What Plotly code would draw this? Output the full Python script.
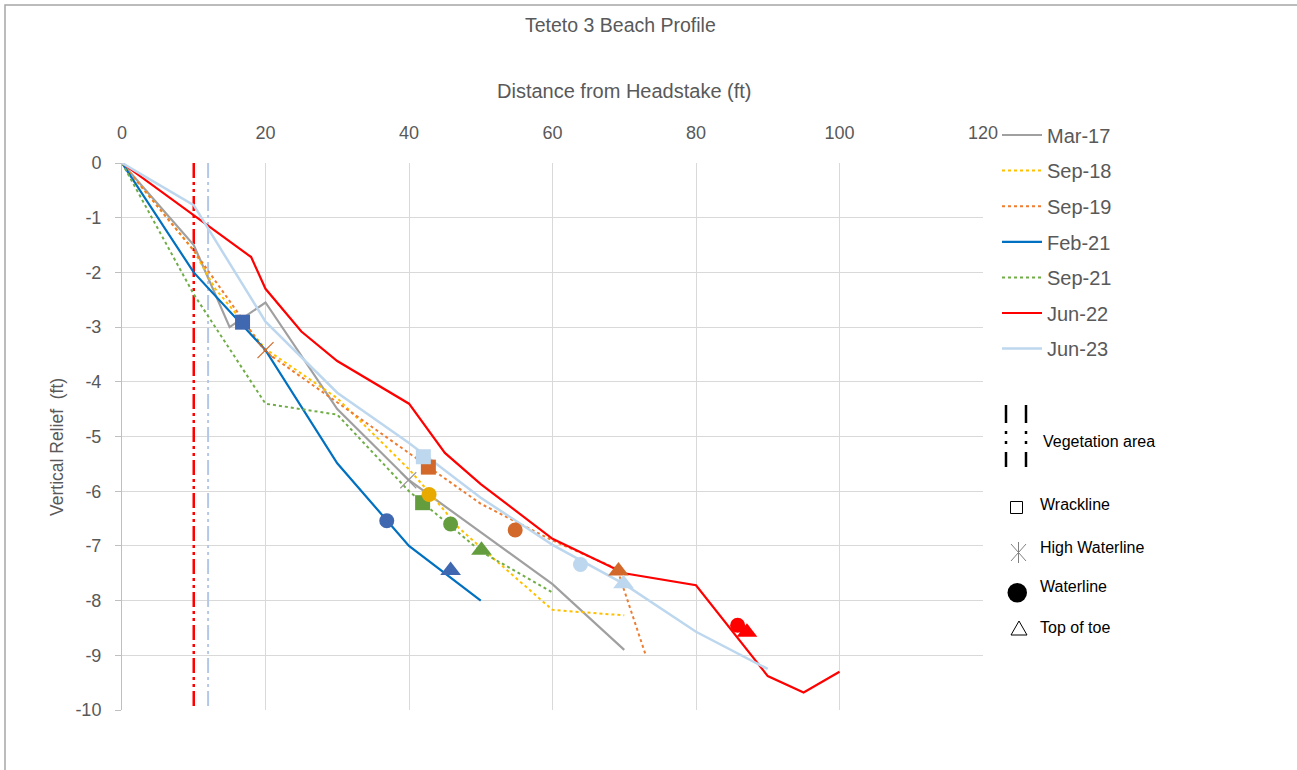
import plotly.graph_objects as go

# ---------------- data ----------------
series_names = ["Mar-17", "Sep-18", "Sep-19", "Feb-21", "Sep-21", "Jun-22", "Jun-23"]

mar17_x = [0, 10, 15, 20, 30, 40, 60, 70]
mar17_y = [0, -1.5, -3.0, -2.55, -4.5, -5.8, -7.7, -8.9]

sep18_x = [0, 10, 13, 20, 30, 40, 43, 47, 60, 70]
sep18_y = [0, -1.6, -2.3, -3.4, -4.3, -5.6, -6.05, -6.68, -8.17, -8.27]

sep19_x = [0, 10, 20, 30, 40, 50, 60, 69, 73]
sep19_y = [0, -1.6, -3.45, -4.38, -5.3, -6.23, -6.9, -7.42, -9.0]

feb21_x = [0, 10, 20, 30, 40, 50]
feb21_y = [0, -2.0, -3.42, -5.49, -7.0, -8.0]

sep21_x = [0, 10, 20, 30, 40, 50, 60]
sep21_y = [0, -2.4, -4.4, -4.6, -6.0, -7.1, -7.85]

jun22_x = [0, 18, 20, 25, 30, 40, 45, 50, 60, 70, 80, 90, 95, 100]
jun22_y = [0, -1.72, -2.3, -3.08, -3.62, -4.4, -5.3, -5.87, -6.87, -7.5, -7.72, -9.38, -9.68, -9.3]

jun23_x = [0, 10, 20, 30, 40, 50, 60, 70, 80, 90]
jun23_y = [0, -0.77, -2.9, -4.2, -5.12, -6.12, -6.98, -7.7, -8.57, -9.25]

# feature markers
wrack_series = ["Feb-21", "Sep-19", "Sep-21", "Jun-23"]
wrack_x = [16.8, 42.7, 41.9, 42.0]
wrack_y = [-2.91, -5.56, -6.21, -5.37]

highwater_series = ["Mar-17", "Sep-19"]
highwater_x = [39.9, 20.0]
highwater_y = [-5.8, -3.42]

waterline_series = ["Sep-18", "Feb-21", "Sep-21", "Sep-19", "Jun-23", "Jun-22"]
waterline_x = [42.8, 36.9, 45.8, 54.8, 63.9, 85.8]
waterline_y = [-6.06, -6.54, -6.6, -6.71, -7.34, -8.45]

toe_series = ["Feb-21", "Sep-21", "Sep-19", "Jun-23", "Jun-22"]
toe_x = [45.8, 50.1, 69.2, 69.9, 87.1]
toe_y = [-7.45, -7.08, -7.46, -7.69, -8.58]

# vegetation area boundaries
veg_names = ["Jun-22", "Jun-23"]
veg_x = [10, 12]
veg_y = [0, -10]

x_ticks = [0, 20, 40, 60, 80, 100, 120]
y_ticks = [0, -1, -2, -3, -4, -5, -6, -7, -8, -9, -10]
y_ticklabels = ["0", "-1", "-2", "-3", "-4", "-5", "-6", "-7", "-8", "-9", "-10"]

# ---------------- styles ----------------
line_style = {
    "Mar-17": dict(color="#A0A0A0", width=2.2, dash="solid"),
    "Sep-18": dict(color="#FFC000", width=2, dash="dot"),
    "Sep-19": dict(color="#ED7D31", width=2, dash="dot"),
    "Feb-21": dict(color="#0070C0", width=2.2, dash="solid"),
    "Sep-21": dict(color="#70AD47", width=2, dash="dot"),
    "Jun-22": dict(color="#FF0000", width=2.2, dash="solid"),
    "Jun-23": dict(color="#BDD7EE", width=2.5, dash="solid"),
}
marker_color = {
    "Mar-17": "#9A9A9A",
    "Sep-18": "#E8AA00",
    "Sep-19": "#D2692A",
    "Feb-21": "#4068B0",
    "Sep-21": "#639D3E",
    "Jun-22": "#FF0000",
    "Jun-23": "#BDD7EE",
}
veg_color = {"Jun-22": "#FF0000", "Jun-23": "#B4C7E7"}
veg_width = {"Jun-22": 2.5, "Jun-23": 2}

FONT = "Liberation Sans"
GRAY = "#595959"

data_map = {
    "Mar-17": (mar17_x, mar17_y),
    "Sep-18": (sep18_x, sep18_y),
    "Sep-19": (sep19_x, sep19_y),
    "Feb-21": (feb21_x, feb21_y),
    "Sep-21": (sep21_x, sep21_y),
    "Jun-22": (jun22_x, jun22_y),
    "Jun-23": (jun23_x, jun23_y),
}

fig = go.Figure()

# vegetation lines
for name, vx in zip(veg_names, veg_x):
    fig.add_trace(go.Scatter(
        x=[vx, vx], y=veg_y, mode="lines", showlegend=False, hoverinfo="skip",
        line=dict(color=veg_color[name], width=veg_width[name], dash="15px,4px,3px,4px,3px,4px"),
    ))

# profile lines
for name in series_names:
    xs, ys = data_map[name]
    fig.add_trace(go.Scatter(
        x=xs, y=ys, mode="lines", name=name, legendgroup=name,
        line=line_style[name],
    ))

def add_markers(names, xs, ys, symbol, size):
    for n, x, y in zip(names, xs, ys):
        c = marker_color[n]
        if symbol == "x-thin-open":
            mk = dict(symbol=symbol, size=size, color=c, line=dict(color=c, width=1.2))
        else:
            mk = dict(symbol=symbol, size=size, color=c, line=dict(width=0))
        fig.add_trace(go.Scatter(x=[x], y=[y], mode="markers", showlegend=False,
                                 marker=mk, hoverinfo="x+y"))

add_markers(wrack_series, wrack_x, wrack_y, "square", 15)
add_markers(highwater_series, highwater_x, highwater_y, "x-thin-open", 16)
add_markers(waterline_series, waterline_x, waterline_y, "circle", 15)
add_markers(toe_series, toe_x, toe_y, "triangle-up", 18)

# ---------------- layout ----------------
W, H = 1297, 770
L, R, T, B = 122, 314, 163, 60
PW, PH = W - L - R, H - T - B

def px(xp):
    return (xp - L) / PW

def py(yp):
    return (H - B - yp) / PH

fig.update_layout(
    width=W, height=H,
    margin=dict(l=L, r=R, t=T, b=B, autoexpand=False),
    paper_bgcolor="white", plot_bgcolor="white",
    font=dict(family=FONT, color=GRAY, size=18),
    showlegend=True,
    legend=dict(
        x=px(997), y=py(115.5), xanchor="left", yanchor="top",
        font=dict(family=FONT, size=20, color=GRAY),
        tracegroupgap=6.6, itemwidth=40,
        bgcolor="rgba(0,0,0,0)",
    ),
    xaxis=dict(
        range=[0, 120], tickvals=x_ticks, side="top",
        showgrid=True, gridcolor="#D9D9D9", gridwidth=1,
        zeroline=False, showline=False, ticks="",
        tickfont=dict(family=FONT, size=18, color=GRAY),
        ticklabelstandoff=19,
    ),
    yaxis=dict(
        range=[-10, 0], tickvals=y_ticks, ticktext=y_ticklabels,
        showgrid=True, gridcolor="#D9D9D9", gridwidth=1,
        zeroline=False, showline=True, linecolor="#BFBFBF", linewidth=1,
        ticks="outside", ticklen=6, tickcolor="#BFBFBF",
        tickfont=dict(family=FONT, size=18, color=GRAY),
        ticklabelstandoff=10,
    ),
)

annotations = [
    dict(text="Teteto 3 Beach Profile", x=px(620), y=py(25), font=dict(size=19.5, color=GRAY)),
    dict(text="Distance from Headstake (ft)", x=px(624), y=py(91), font=dict(size=20, color=GRAY)),
    dict(text="Vertical Relief  (ft)", x=px(57), y=py(447), textangle=-90, font=dict(size=17.5, color=GRAY)),
]
for a in annotations:
    a.update(xref="paper", yref="paper", showarrow=False, xanchor="center", yanchor="middle")
    a["font"]["family"] = FONT

legend2 = [
    ("Vegetation area", 1041, 441),
    ("Wrackline", 1038, 504),
    ("High Waterline", 1038, 547),
    ("Waterline", 1038, 586),
    ("Top of toe", 1038, 627),
]
for text, xx, yy in legend2:
    annotations.append(dict(text=text, x=px(xx), y=py(yy), xref="paper", yref="paper",
                            showarrow=False, xanchor="left", yanchor="middle",
                            font=dict(family=FONT, size=16, color="#000000")))
fig.update_layout(annotations=annotations)

shapes = []
def pline(x0, y0, x1, y1, color="#000000", width=2):
    shapes.append(dict(type="line", xref="paper", yref="paper",
                       x0=px(x0), y0=py(y0), x1=px(x1), y1=py(y1),
                       line=dict(color=color, width=width)))

# vegetation legend symbol
for vx in (1006, 1026):
    pline(vx, 405, vx, 423, width=2.5)
    pline(vx, 431, vx, 434, width=2.5)
    pline(vx, 441, vx, 444, width=2.5)
    pline(vx, 452, vx, 467, width=2.5)
# wrackline square
shapes.append(dict(type="rect", xref="paper", yref="paper",
                   x0=px(1010.5), y0=py(513.5), x1=px(1022.5), y1=py(501.5),
                   line=dict(color="#000000", width=1)))
# high waterline asterisk
pline(1011, 544, 1026, 561, color="#808080", width=1)
pline(1011, 561, 1026, 544, color="#808080", width=1)
pline(1018.5, 542, 1018.5, 563, color="#808080", width=1)
# waterline circle
shapes.append(dict(type="circle", xref="paper", yref="paper",
                   x0=px(1007.5), y0=py(602.5), x1=px(1027), y1=py(583),
                   fillcolor="#000000", line=dict(color="#000000", width=0)))
# top of toe triangle
shapes.append(dict(type="path", xref="paper", yref="paper",
                   path=f"M {px(1011)} {py(635)} L {px(1027)} {py(635)} L {px(1019)} {py(621)} Z",
                   line=dict(color="#000000", width=1)))
# outer frame
shapes.append(dict(type="rect", xref="paper", yref="paper",
                   x0=px(5), y0=py(5), x1=px(1320), y1=py(800),
                   line=dict(color="#A6A6A6", width=1.5), layer="below"))
fig.update_layout(shapes=shapes)

fig.write_html("out.html", config={"displayModeBar": False},
               post_script="document.body.style.margin='0';")
